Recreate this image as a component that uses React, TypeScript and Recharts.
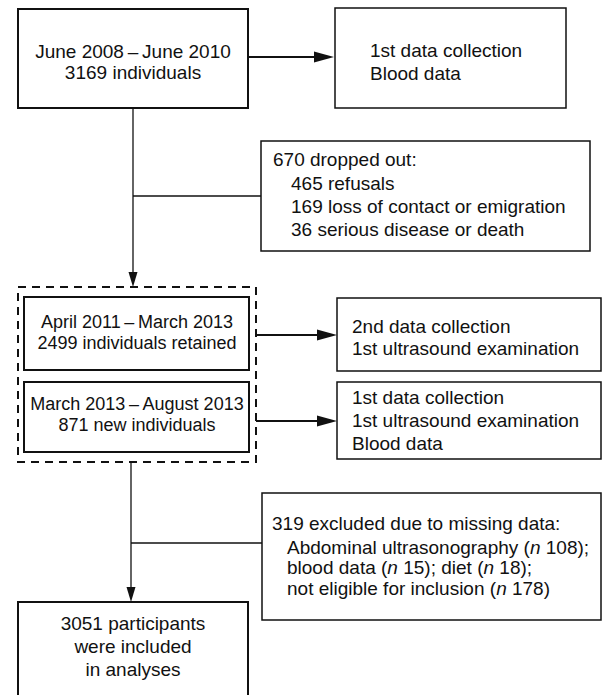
import React from 'react';
import { ComposedChart, XAxis, YAxis, Scatter, ReferenceArea, ReferenceLine } from 'recharts';

// ---- text content of the flow diagram ----
const enrolmentLines = ['June 2008\u2009\u2013\u2009June 2010', '3169 individuals'];
const firstVisitLines = ['1st data collection', 'Blood data'];
const dropoutLines = ['670 dropped out:', '465 refusals', '169 loss of contact or emigration', '36 serious disease or death'];
const retainedLines = ['April 2011\u2009\u2013\u2009March 2013', '2499 individuals retained'];
const newLines = ['March 2013\u2009\u2013\u2009August 2013', '871 new individuals'];
const retainedVisitLines = ['2nd data collection', '1st ultrasound examination'];
const newVisitLines = ['1st data collection', '1st ultrasound examination', 'Blood data'];
const excludedLines = [
  '319 excluded due to missing data:',
  'Abdominal ultrasonography (*n* 108);',
  'blood data (*n* 15); diet (*n* 18);',
  'not eligible for inclusion (*n* 178)',
];
const finalLines = ['3051 participants', 'were included', 'in analyses'];

// ---- layout in the diagram's coordinate space ----
const boxes = [
  { x1: 18, y1: 9, x2: 248, y2: 108, w: 2 },
  { x1: 335, y1: 8, x2: 566, y2: 108, w: 1.5 },
  { x1: 261, y1: 141, x2: 590, y2: 251, w: 1.5 },
  { x1: 24, y1: 297, x2: 249, y2: 370, w: 2 },
  { x1: 24, y1: 382, x2: 249, y2: 452, w: 2 },
  { x1: 337, y1: 298, x2: 601, y2: 371, w: 1.5 },
  { x1: 337, y1: 382, x2: 601, y2: 459, w: 1.5 },
  { x1: 262, y1: 493, x2: 601, y2: 620, w: 1.5 },
  { x1: 18, y1: 602, x2: 248, y2: 705, w: 2 },
];
const dashedBox = { x1: 18, y1: 287, x2: 256, y2: 462 };

const connectors = [
  { a: [248, 57], b: [318, 57], w: 2 },
  { a: [133, 108], b: [133, 278], w: 1.3 },
  { a: [133, 196], b: [261, 196], w: 1.3 },
  { a: [256, 335], b: [320, 335], w: 2 },
  { a: [256, 421], b: [320, 421], w: 2 },
  { a: [131, 462], b: [131, 592], w: 1.3 },
  { a: [131, 543], b: [262, 543], w: 1.3 },
];

const arrowHeads = [
  { x: 334, y: 57, dir: 'right' },
  { x: 133, y: 287, dir: 'down' },
  { x: 337, y: 335, dir: 'right' },
  { x: 337, y: 421, dir: 'right' },
  { x: 131, y: 602, dir: 'down' },
];

// text blocks: lines, anchor x, y of each line, alignment, indent for lines after the first
const textBlocks = [
  { lines: enrolmentLines, x: 133, ys: [51, 72], anchor: 'middle', indent: 0, size: 19 },
  { lines: firstVisitLines, x: 370, ys: [50, 73], anchor: 'start', indent: 0, size: 19 },
  { lines: dropoutLines, x: 273, ys: [159, 183, 206, 229], anchor: 'start', indent: 18, size: 19 },
  { lines: retainedLines, x: 137, ys: [322, 343], anchor: 'middle', indent: 0, size: 18 },
  { lines: newLines, x: 137, ys: [404, 425], anchor: 'middle', indent: 0, size: 18 },
  { lines: retainedVisitLines, x: 352, ys: [326, 348], anchor: 'start', indent: 0, size: 19 },
  { lines: newVisitLines, x: 352, ys: [397, 420, 443], anchor: 'start', indent: 0, size: 19 },
  { lines: excludedLines, x: 272, ys: [523, 547, 567, 588], anchor: 'start', indent: 15, size: 19 },
  { lines: finalLines, x: 133, ys: [623, 646, 669], anchor: 'middle', indent: 0, size: 19 },
];

const textPoints = textBlocks.flatMap((b) =>
  b.lines.map((t, i) => ({
    x: b.x + (i > 0 ? b.indent : 0),
    y: b.ys[i],
    text: t,
    anchor: b.anchor,
    size: b.size,
  }))
);

const INK = '#111';
const FONT = '"Liberation Sans", Arial, Helvetica, sans-serif';

const TextShape = (props: any) => {
  const { cx, cy, payload } = props;
  const parts = String(payload.text).split('*');
  return (
    <text
      x={cx}
      y={cy}
      textAnchor={payload.anchor}
      dominantBaseline="central"
      fontSize={payload.size}
      fontFamily={FONT}
      fill={INK}
    >
      {parts.map((s: string, i: number) => (
        <tspan key={i} fontStyle={i % 2 === 1 ? 'italic' : 'normal'}>
          {s}
        </tspan>
      ))}
    </text>
  );
};

const ArrowShape = (props: any) => {
  const { cx, cy, payload } = props;
  const pts =
    payload.dir === 'right'
      ? `${cx},${cy} ${cx - 20},${cy - 5.5} ${cx - 20},${cy + 5.5}`
      : `${cx},${cy} ${cx - 4.5},${cy - 15} ${cx + 4.5},${cy - 15}`;
  return <polygon points={pts} fill={INK} stroke="none" />;
};

export default function App() {
  return (
    <div style={{ position: 'absolute', left: 0, top: 0, width: 603, height: 695, background: '#fff' }}>
      <ComposedChart width={603} height={695} margin={{ top: 0, right: 0, bottom: 0, left: 0 }}>
        <XAxis hide type="number" dataKey="x" domain={[0, 603]} allowDataOverflow />
        <YAxis hide type="number" dataKey="y" domain={[0, 695]} reversed allowDataOverflow />
        {boxes.map((b, i) => (
          <ReferenceArea
            key={`box-${i}`}
            x1={b.x1}
            x2={b.x2}
            y1={b.y1}
            y2={b.y2}
            fill="#fff"
            fillOpacity={1}
            stroke={INK}
            strokeWidth={b.w}
            ifOverflow="visible"
          />
        ))}
        <ReferenceArea
          x1={dashedBox.x1}
          x2={dashedBox.x2}
          y1={dashedBox.y1}
          y2={dashedBox.y2}
          fill="none"
          fillOpacity={0}
          stroke={INK}
          strokeWidth={2}
          strokeDasharray="8 6"
          ifOverflow="visible"
        />
        {connectors.map((c, i) => (
          <ReferenceLine
            key={`ln-${i}`}
            segment={[
              { x: c.a[0], y: c.a[1] },
              { x: c.b[0], y: c.b[1] },
            ]}
            stroke={INK}
            strokeWidth={c.w}
            ifOverflow="visible"
          />
        ))}
        <Scatter data={arrowHeads} shape={ArrowShape} isAnimationActive={false} />
        <Scatter data={textPoints} shape={TextShape} isAnimationActive={false} />
      </ComposedChart>
    </div>
  );
}
